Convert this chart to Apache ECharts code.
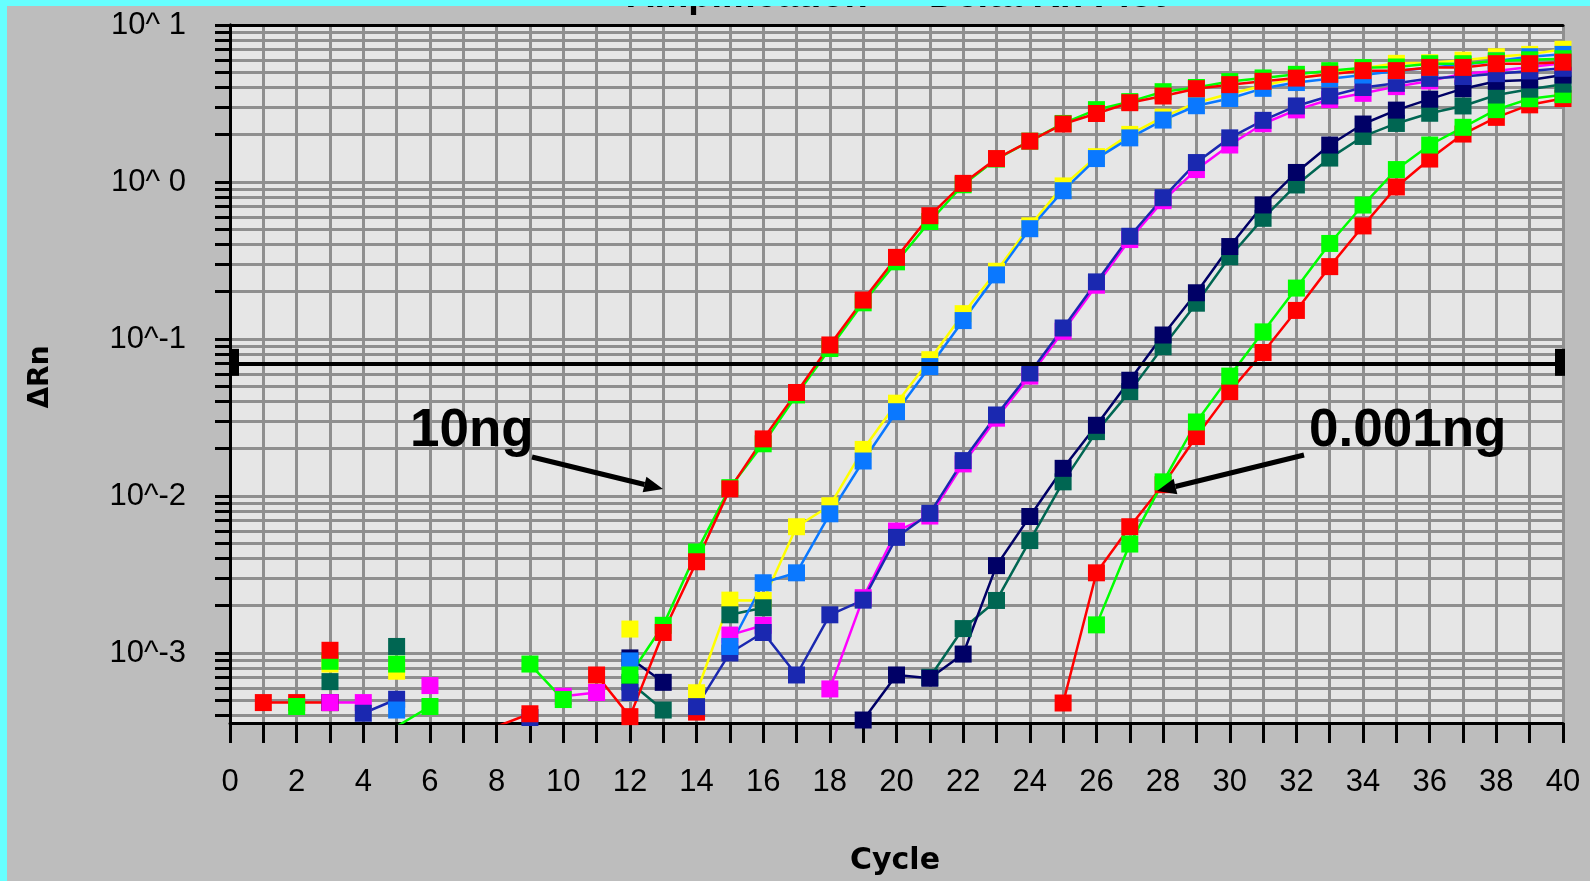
<!DOCTYPE html>
<html>
<head>
<meta charset="utf-8">
<script src="https://cdn.jsdelivr.net/npm/echarts@6/dist/echarts.min.js"></script>
<style>
html,body{margin:0;padding:0;background:#bdbdbd;}
#c{width:1590px;height:881px;}
</style>
</head>
<body>
<div id="c"></div>
<script>
// ---- data (cycle 1..40), null = not plottable (<=0) ----
const cycles = [1,2,3,4,5,6,7,8,9,10,11,12,13,14,15,16,17,18,19,20,21,22,23,24,25,26,27,28,29,30,31,32,33,34,35,36,37,38,39,40];

const red10ng = [null,null,1.04e-3,null,null,null,null,3.4e-4,4.1e-4,null,
  7.24e-4,3.93e-4,1.35e-3,3.81e-3,0.0111,0.0231,0.0456,0.0916,0.177,0.331,
  0.61,0.98,1.41,1.82,2.34,2.73,3.2,3.53,3.93,4.17,
  4.38,4.59,4.85,5.12,5.12,5.37,5.37,5.67,5.67,5.8];
const green10ng = [null,4.56e-4,null,null,8.5e-4,null,null,null,8.5e-4,5.05e-4,
  null,7.24e-4,1.5e-3,4.4e-3,0.0113,0.0215,0.044,0.087,0.17,0.31,
  0.56,0.96,1.40,1.82,2.36,2.89,3.25,3.76,4.0,4.36,
  4.6,4.85,5.12,5.35,5.4,5.67,5.67,5.9,6.0,6.1];
const yellow1ng = [null,null,8.5e-4,null,7.65e-4,null,null,null,null,null,
  null,1.42e-3,null,5.58e-4,2.17e-3,2.16e-3,6.37e-3,8.67e-3,0.0198,0.039,
  0.0738,0.145,0.27,0.526,0.944,1.45,2.01,2.59,3.2,3.65,
  4.1,4.6,4.9,5.3,5.7,5.75,5.97,6.28,6.5,7.0];
const blueLight1ng = [null,null,null,null,4.33e-4,null,null,null,null,null,
  null,8.9e-4,null,null,1.1e-3,2.8e-3,3.24e-3,7.7e-3,0.0167,0.0344,
  0.0667,0.131,0.256,0.504,0.88,1.41,1.91,2.48,3.06,3.4,
  3.95,4.3,4.55,4.8,5.1,5.35,5.6,5.9,6.28,6.5];
const magenta01ng = [null,null,4.83e-4,4.83e-4,null,6.2e-4,null,null,null,5.3e-4,
  5.6e-4,null,3.45e-4,null,1.3e-3,1.5e-3,null,5.9e-4,2.25e-3,5.98e-3,
  7.45e-3,0.016,0.0313,0.058,0.112,0.22,0.43,0.76,1.2,1.72,
  2.35,2.88,3.35,3.67,4.05,4.4,4.9,5.1,5.4,5.7];
const blue01ng = [null,null,null,4.13e-4,5.07e-4,null,null,null,3.88e-4,null,
  null,5.6e-4,null,4.55e-4,1.0e-3,1.35e-3,7.24e-4,1.75e-3,2.17e-3,5.45e-3,
  7.75e-3,0.0168,0.0328,0.0607,0.1175,0.231,0.451,0.794,1.33,1.91,
  2.47,3.05,3.53,4.0,4.25,4.57,4.7,4.9,5.1,5.3];
const navy001ng = [null,null,4.83e-4,null,null,null,null,null,null,null,
  null,9.3e-4,6.5e-4,null,null,null,null,null,3.74e-4,7.24e-4,
  6.9e-4,9.84e-4,3.6e-3,7.4e-3,0.015,0.0282,0.0546,0.106,0.197,0.388,
  0.714,1.15,1.72,2.34,2.87,3.37,3.93,4.38,4.47,4.8];
const teal001ng = [null,null,6.57e-4,null,1.1e-3,null,null,null,null,null,
  null,6.5e-4,4.33e-4,null,1.75e-3,1.94e-3,null,null,null,null,
  7.0e-4,1.43e-3,2.16e-3,5.2e-3,0.0123,0.0257,0.0462,0.0893,0.169,0.334,
  0.587,0.957,1.42,1.95,2.36,2.74,3.05,3.58,3.9,4.2];
const green0001ng = [null,null,8.85e-4,null,3.4e-4,4.56e-4,null,null,null,null,
  null,null,null,null,null,null,null,null,null,null,
  null,null,null,null,null,1.51e-3,4.94e-3,0.0123,0.0296,0.058,
  0.111,0.211,0.406,0.713,1.2,1.72,2.23,2.89,3.39,3.6];
const red0001ng = [4.83e-4,4.83e-4,4.83e-4,null,null,null,null,null,null,null,
  null,null,null,4.2e-4,null,null,null,null,null,null,
  null,null,null,null,4.8e-4,3.24e-3,6.37e-3,0.0118,0.0239,0.0462,
  0.082,0.152,0.289,0.525,0.93,1.40,2.02,2.58,3.1,3.4];

const threshold = 0.071;
const yTickValues = [4e-4,5e-4,6e-4,7e-4,8e-4,9e-4,
  1e-3,2e-3,3e-3,4e-3,5e-3,6e-3,7e-3,8e-3,9e-3,
  1e-2,2e-2,3e-2,4e-2,5e-2,6e-2,7e-2,8e-2,9e-2,
  0.1,0.2,0.3,0.4,0.5,0.6,0.7,0.8,0.9,
  1,2,3,4,5,6,7,8,9,10];
const yLabelValues = [0.001,0.01,0.1,1,10];

// ---- chart ----
const seriesDefs = [
  ['1ng A', yellow1ng, '#ffff00'],
  ['0.001ng B', red0001ng, '#ff0000'],
  ['0.001ng A', green0001ng, '#00ff00'],
  ['0.01ng B', teal001ng, '#006652'],
  ['0.01ng A', navy001ng, '#000066'],
  ['0.1ng A', magenta01ng, '#ff00ff'],
  ['0.1ng B', blue01ng, '#1a28b0'],
  ['1ng B', blueLight1ng, '#0a78ff'],
  ['10ng B', green10ng, '#00ff00'],
  ['10ng A', red10ng, '#ff0000']
];

const series = seriesDefs.map(function (d) {
  return {
    name: d[0],
    type: 'line',
    data: cycles.map(function (c, i) { return [c, d[1][i]]; }),
    symbol: 'rect',
    symbolSize: 17,
    showSymbol: true,
    showAllSymbol: true,
    connectNulls: false,
    clip: true,
    silent: true,
    lineStyle: { color: d[2], width: 2.5 },
    itemStyle: { color: d[2], borderWidth: 0 },
    emphasis: { disabled: true }
  };
});

// threshold line + handles on the last series
series[series.length - 1].markLine = {
  silent: true,
  symbol: ['none', 'none'],
  label: { show: false },
  lineStyle: { color: '#000', width: 4, type: 'solid' },
  data: [{ yAxis: threshold }]
};
series[series.length - 1].markPoint = {
  silent: true,
  symbol: 'rect',
  symbolSize: [10, 27],
  itemStyle: { color: '#000' },
  label: { show: false },
  data: [
    { coord: [0, threshold], symbolOffset: [4, 0] },
    { coord: [40, threshold], symbolOffset: [-3, 0] }
  ]
};

function arrow(x1, y1, x2, y2) {
  const a = Math.atan2(y2 - y1, x2 - x1);
  const L = 19, W = 8;
  const bx = x2 - L * Math.cos(a), by = y2 - L * Math.sin(a);
  const px = -Math.sin(a) * W, py = Math.cos(a) * W;
  return [
    { type: 'line', z: 50, shape: { x1: x1, y1: y1, x2: bx, y2: by }, style: { stroke: '#000', lineWidth: 5 } },
    { type: 'polygon', z: 50, shape: { points: [[x2, y2], [bx + px, by + py], [bx - px, by - py]] }, style: { fill: '#000' } }
  ];
}

const axisFont = 'Liberation Sans';

const option = {
  backgroundColor: '#bdbdbd',
  animation: false,
  grid: { left: 230, top: 25, right: 27, bottom: 158, show: true, backgroundColor: '#e6e6e6', borderWidth: 0 },
  xAxis: [{
    type: 'value', min: 0, max: 40, interval: 1,
    axisLine: { show: true, onZero: false, lineStyle: { color: '#000', width: 3 } },
    axisTick: { show: true, length: 20, lineStyle: { color: '#000', width: 3 } },
    axisLabel: {
      formatter: function (v) { return v % 2 === 0 ? String(v) : ''; },
      fontSize: 31, color: '#000', margin: 44, fontFamily: axisFont
    },
    splitLine: { show: true, lineStyle: { color: '#8f8f8f', width: 3 } }
  }, {
    type: 'value', position: 'top', min: 0, max: 40,
    axisLine: { show: true, onZero: false, lineStyle: { color: '#000', width: 3 } },
    axisTick: { show: false }, axisLabel: { show: false }, splitLine: { show: false }
  }],
  yAxis: [{
    type: 'log', logBase: 10, min: 3.58e-4, max: 10,
    axisLine: { show: true, lineStyle: { color: '#000', width: 3 } },
    axisTick: { show: true, length: 15, lineStyle: { color: '#000', width: 3 }, customValues: yTickValues },
    axisLabel: {
      customValues: yLabelValues,
      formatter: function (v) {
        const e = Math.round(Math.log10(v));
        return '10^' + (e < 0 ? String(e) : ' ' + e);
      },
      fontSize: 31, color: '#000', margin: 44, fontFamily: axisFont
    },
    splitLine: { show: true, lineStyle: { color: '#8f8f8f', width: 3 } },
    minorTick: { show: false }
  }, {
    type: 'value', position: 'right', min: 0, max: 1,
    axisLine: { show: true, lineStyle: { color: '#000', width: 3 } },
    axisTick: { show: false }, axisLabel: { show: false }, splitLine: { show: false }
  }],
  series: series,
  graphic: [
    { type: 'text', z: 10, x: 627, y: 16, style: { text: 'Amplification', font: 'bold 38px "Liberation Sans"', fill: '#000', align: 'left', verticalAlign: 'bottom' } },
    { type: 'text', z: 10, x: 929, y: 16, style: { text: 'Delta Rn Plot', font: 'bold 38px "Liberation Sans"', fill: '#000', align: 'left', verticalAlign: 'bottom' } },
    { type: 'rect', z: 100, shape: { x: 0, y: 0, width: 1590, height: 6 }, style: { fill: '#66ffff' } },
    { type: 'rect', z: 100, shape: { x: 0, y: 0, width: 7, height: 881 }, style: { fill: '#66ffff' } },
    { type: 'text', z: 10, x: 41, y: 377, rotation: Math.PI / 2, style: { text: '\u0394Rn', font: 'bold 28px "DejaVu Sans"', fill: '#000', align: 'center', verticalAlign: 'middle' } },
    { type: 'text', z: 10, x: 895, y: 861, style: { text: 'Cycle', font: 'bold 30px "DejaVu Sans"', fill: '#000', align: 'center', verticalAlign: 'middle' } },
    { type: 'text', z: 50, x: 410, y: 431, style: { text: '10ng', font: 'bold 53px "Liberation Sans"', fill: '#000', align: 'left', verticalAlign: 'middle' } },
    { type: 'text', z: 50, x: 1309, y: 431, style: { text: '0.001ng', font: 'bold 53px "Liberation Sans"', fill: '#000', align: 'left', verticalAlign: 'middle' } }
  ].concat(arrow(532, 457, 663, 489)).concat(arrow(1304, 455, 1157, 491))
};

const chart = echarts.init(document.getElementById('c'), null, { renderer: 'canvas', width: 1590, height: 881 });
chart.setOption(option);
</script>
</body>
</html>
